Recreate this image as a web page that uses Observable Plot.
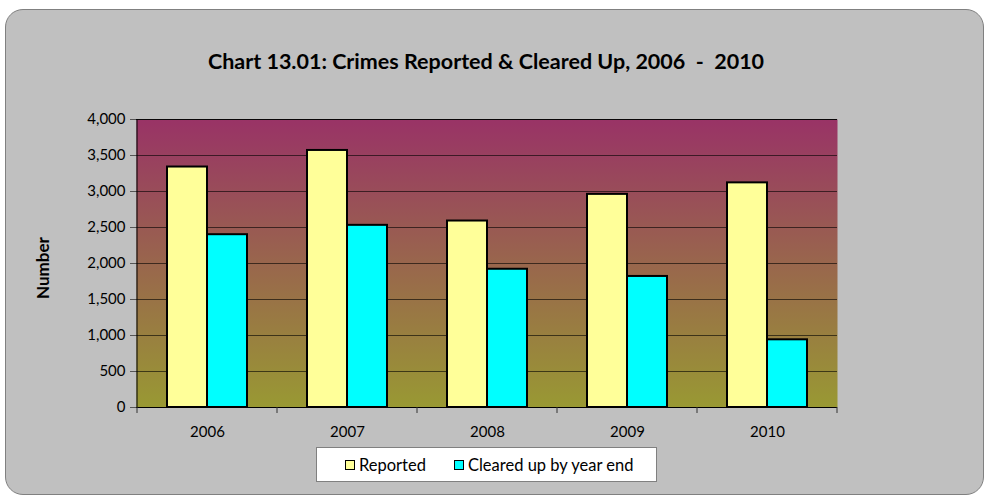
<!DOCTYPE html>
<html>
<head>
<meta charset="utf-8">
<script src="https://cdn.jsdelivr.net/npm/d3@7"></script>
<script src="https://cdn.jsdelivr.net/npm/@observablehq/plot@0.6"></script>
<style>
  html, body { margin: 0; padding: 0; background: #fff; }
  #wrap { position: relative; width: 986px; height: 498px; overflow: hidden; font-family: Lato, "Open Sans", sans-serif; }
  #card { position: absolute; left: 5px; top: 9px; width: 979px; height: 486px; background: #c0c0c0; border: 1px solid #808080; border-radius: 18px; box-sizing: border-box; }
  #title { position: absolute; top: 48px; left: 0; width: 972px; text-align: center; font-weight: bold; font-size: 21.5px; line-height: 26px; color: #000; }
  #chart { position: absolute; left: 0; top: 0; }
  #ylab { position: absolute; left: 42px; top: 268px; transform: translate(-50%, -50%) rotate(-90deg); font-weight: bold; font-size: 17px; white-space: nowrap; }
  #legend { position: absolute; left: 316px; top: 447px; width: 341px; height: 35px; box-sizing: border-box; background: #fff; border: 1px solid #808080; font-size: 16.5px; display: flex; align-items: center; padding-left: 28px; white-space: nowrap; }
  .item { display: flex; align-items: center; margin-right: 28px; white-space: nowrap; }
  .sw { width: 8px; height: 8px; border: 1.5px solid #000; margin-right: 4px; flex: none; }
</style>
</head>
<body>
<div id="wrap">
  <div id="card"></div>
  <div id="title">Chart 13.01: Crimes Reported &amp; Cleared Up, 2006&nbsp; -&nbsp; 2010</div>
  <div id="chart"></div>
  <div id="ylab">Number</div>
  <div id="legend"></div>
</div>
<script>
const years = ["2006", "2007", "2008", "2009", "2010"];
const reported = [3340, 3570, 2590, 2960, 3120];
const cleared = [2400, 2530, 1920, 1820, 940];
const yTicks = [0, 500, 1000, 1500, 2000, 2500, 3000, 3500, 4000];
const seriesNames = ["Reported", "Cleared up by year end"];
const seriesColors = ["#ffff99", "#00ffff"];

const data = years.map((year, i) => ({year, reported: reported[i], cleared: cleared[i]}));

function decorations(index, scales, values, dimensions) {
  const x = scales.x, y = scales.y;
  const {width, marginLeft, marginRight} = dimensions;
  let bw = x.bandwidth;
  if (typeof bw === "function") bw = bw();
  if (typeof bw !== "number" || !isFinite(bw)) bw = (width - marginLeft - marginRight) / years.length;
  const g = d3.create("svg:g");
  const defs = g.append("defs");
  const grad = defs.append("linearGradient").attr("id", "bgGrad")
    .attr("x1", 0).attr("y1", 0).attr("x2", 0).attr("y2", 1);
  grad.append("stop").attr("offset", "0%").attr("stop-color", "#993366");
  grad.append("stop").attr("offset", "100%").attr("stop-color", "#999933");
  const y0 = y(0), yTop = y(4000);
  const x0 = x(years[0]);
  g.append("line").attr("x1", x0).attr("x2", x0).attr("y1", yTop).attr("y2", y0 + 0.5)
    .attr("stroke", "#000").attr("stroke-width", 1);
  const bounds = years.map(yr => x(yr)).concat([x(years[years.length - 1]) + bw]);
  bounds.forEach(bx => {
    g.append("line").attr("x1", bx).attr("x2", bx).attr("y1", y0).attr("y2", y0 + 6)
      .attr("stroke", "#333").attr("stroke-width", 1);
  });
  return g.node();
}

const fmt = d3.format(",");

const chart = Plot.plot({
  width: 986,
  height: 460,
  marginTop: 119,
  marginBottom: 53,
  marginLeft: 136,
  marginRight: 149,
  style: {background: "transparent", fontFamily: "Lato, 'Open Sans', sans-serif", fontSize: "15px", color: "#000"},
  x: {domain: years, padding: 0, axis: null},
  y: {domain: [0, 4000], axis: null},
  marks: [
    Plot.frame({fill: "url(#bgGrad)", stroke: null}),
    Plot.gridY(yTicks, {stroke: "#000", strokeOpacity: 0.6, strokeWidth: 1}),
    Plot.ruleY([4000], {stroke: "#000", strokeOpacity: 0.85}),
    Plot.barY(data, {x: "year", y: "reported", fill: seriesColors[0], stroke: "#000", strokeWidth: 2, insetLeft: 30, insetRight: 70}),
    Plot.barY(data, {x: "year", y: "cleared", fill: seriesColors[1], stroke: "#000", strokeWidth: 2, insetLeft: 70, insetRight: 30}),
    Plot.ruleY([0], {stroke: "#000", strokeWidth: 1}),
    decorations,
    Plot.axisY(yTicks, {tickFormat: fmt, tickSize: 6, tickPadding: 5, label: null, stroke: "#555", fontSize: 15}),
    Plot.axisX({tickSize: 0, tickPadding: 19, label: null, fontSize: 15})
  ]
});
document.getElementById("chart").appendChild(chart);

const legend = d3.select("#legend");
seriesNames.forEach((name, i) => {
  const item = legend.append("div").attr("class", "item");
  item.append("div").attr("class", "sw").style("background", seriesColors[i]);
  item.append("span").text(name);
});
</script>
</body>
</html>
